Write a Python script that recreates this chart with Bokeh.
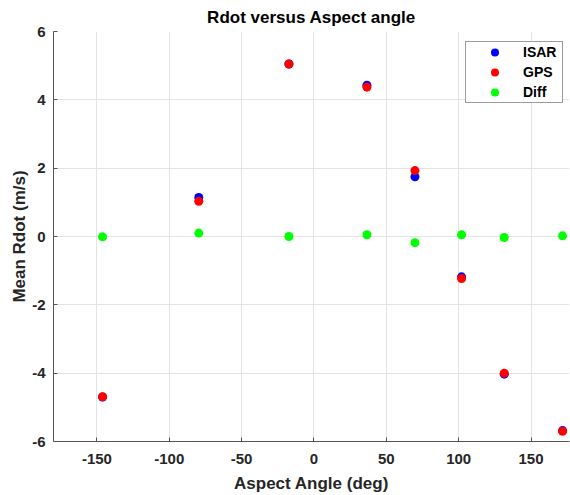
from bokeh.plotting import figure
from bokeh.models import FixedTicker, Range1d, Legend, LegendItem
from bokeh.embed import file_html
from bokeh.resources import INLINE

# Data
aspect_angle = [-146.1, -79.6, -17.3, 36.6, 69.8, 102.0, 131.5, 171.8]
rdot_isar = [-4.70, 1.14, 5.05, 4.43, 1.75, -1.18, -4.03, -5.68]
rdot_gps = [-4.69, 1.03, 5.05, 4.37, 1.93, -1.23, -4.00, -5.70]
rdot_diff = [-0.01, 0.10, 0.00, 0.05, -0.18, 0.05, -0.03, 0.02]

x_ticks = [-150, -100, -50, 0, 50, 100, 150]
x_tick_labels = ["-150", "-100", "-50", "0", "50", "100", "150"]
y_ticks = [-6, -4, -2, 0, 2, 4, 6]
y_tick_labels = ["-6", "-4", "-2", "0", "2", "4", "6"]

FONT = "Liberation Sans"
TXT = "#262626"
AX = "#555555"

p = figure(width=570, height=495, output_backend="svg", toolbar_location=None,
           x_range=Range1d(-180, 176.6), y_range=Range1d(-6, 6),
           min_border_left=53, min_border_right=1, min_border_top=30, min_border_bottom=54,
           title="Rdot versus Aspect angle")
p.outline_line_color = None
p.background_fill_color = "white"
p.border_fill_color = "white"

p.title.text_font = FONT
p.title.text_font_size = "17px"
p.title.text_font_style = "bold"
p.title.text_color = "#000000"
p.title.align = "center"

for ax in (p.xaxis[0], p.yaxis[0]):
    ax.axis_line_color = AX
    ax.major_tick_line_color = AX
    ax.major_tick_in = 4
    ax.major_tick_out = 0
    ax.minor_tick_line_color = None
    ax.major_label_text_font = FONT
    ax.major_label_text_font_size = "15px"
    ax.major_label_text_font_style = "bold"
    ax.major_label_text_color = TXT
    ax.axis_label_text_font = FONT
    ax.axis_label_text_font_size = "17px"
    ax.axis_label_text_font_style = "bold"
    ax.axis_label_text_color = TXT

p.xaxis.ticker = FixedTicker(ticks=x_ticks)
p.yaxis.ticker = FixedTicker(ticks=y_ticks)
p.xaxis.major_label_overrides = dict(zip(x_ticks, x_tick_labels))
p.yaxis.major_label_overrides = dict(zip(y_ticks, y_tick_labels))
p.xaxis.axis_label = "Aspect Angle (deg)"
p.yaxis.axis_label = "Mean Rdot (m/s)"
p.xaxis.major_label_standoff = 12
p.yaxis.major_label_standoff = 8
p.xaxis.axis_label_standoff = 7
p.yaxis.axis_label_standoff = 0

p.xgrid.ticker = FixedTicker(ticks=x_ticks)
p.ygrid.ticker = FixedTicker(ticks=y_ticks)
p.grid.grid_line_color = "#e3e3e3"

r_isar = p.scatter(aspect_angle, rdot_isar, size=9, fill_color="#0000ff", line_color=None)
r_gps = p.scatter(aspect_angle, rdot_gps, size=9, fill_color="#ff0000", line_color=None)
r_diff = p.scatter(aspect_angle, rdot_diff, size=9, fill_color="#00ff00", line_color=None)

legend = Legend(items=[LegendItem(label="ISAR", renderers=[r_isar]),
                       LegendItem(label="GPS", renderers=[r_gps]),
                       LegendItem(label="Diff", renderers=[r_diff])],
                location=(412, 338))
legend.label_text_font = FONT
legend.label_text_font_size = "14px"
legend.label_text_font_style = "bold"
legend.label_text_color = "#000000"
legend.padding = 0
legend.spacing = 0
legend.margin = 0
legend.glyph_width = 57
legend.glyph_height = 20
legend.label_height = 15
legend.label_width = 39
legend.label_standoff = -1
legend.border_line_color = "#3a3a3a"
legend.border_line_width = 1
legend.background_fill_color = "white"
legend.background_fill_alpha = 1
p.add_layout(legend, "center")

open("out.html", "w").write(file_html(p, INLINE))
